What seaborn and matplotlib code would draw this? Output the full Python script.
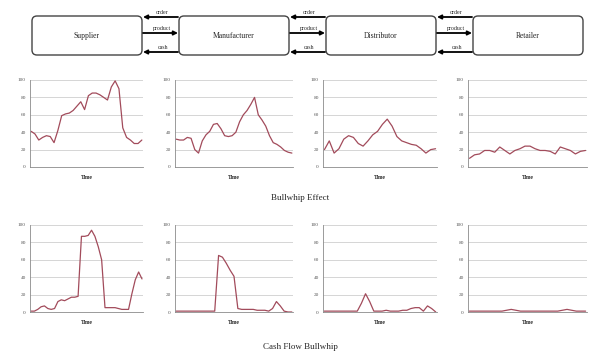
import numpy as np
import pandas as pd
import matplotlib.pyplot as plt
import seaborn as sns
from matplotlib.patches import FancyBboxPatch

# Chain members (left to right)
stages = ["Supplier", "Manufacturer", "Distributor", "Retailer"]
flows = ["order", "product", "cash"]

# Bullwhip effect: order quantity over time, per stage
bullwhip_supplier = [41, 38, 31, 34, 36, 35, 28, 42, 59, 61, 62, 65, 70, 75, 66,
                     82, 85, 85, 83, 80, 77, 92, 99, 90, 45, 34, 31, 27, 27, 31]
bullwhip_manufacturer = [32, 31, 31, 34, 33, 20, 16, 30, 37, 41, 49, 50, 44, 36, 35, 36,
                         40, 52, 60, 65, 72, 80, 60, 54, 47, 36, 28, 26, 23, 19, 17, 16]
bullwhip_distributor = [20, 30, 16, 21, 32, 36, 34, 27, 24, 30, 37, 41,
                        49, 55, 47, 35, 30, 28, 26, 25, 21, 16, 20, 21]
bullwhip_retailer = [10, 14, 15, 19, 19, 17, 23, 19, 15, 19, 21, 24,
                     24, 21, 19, 19, 18, 15, 23, 21, 19, 15, 18, 19]

# Cash flow bullwhip, per stage
cash_supplier = [1, 1, 3, 6, 7, 4, 3, 4, 12, 14, 13, 15, 17, 17, 18, 87, 87, 88, 94,
                 87, 75, 60, 5, 5, 5, 5, 4, 3, 3, 3, 21, 37, 46, 38]
cash_manufacturer = [1, 1, 1, 1, 1, 1, 1, 1, 1, 1, 1, 65, 63, 56, 48, 41, 4, 3, 3,
                     3, 3, 2, 2, 2, 1, 4, 12, 7, 1, 0, 0]
cash_distributor = [1, 1, 1, 1, 1, 1, 1, 1, 1, 10, 21, 12, 1, 1, 1, 2, 1, 1, 1,
                    2, 2, 4, 5, 5, 1, 7, 4, 0]
cash_retailer = [1, 1, 1, 1, 1, 1, 1, 1, 2, 3, 2, 1, 1, 1, 1, 1, 1, 1, 1, 1,
                 2, 3, 2, 1, 1, 1]

yticks = [0, 20, 40, 60, 80, 100]

sns.set_theme(style="white")
plt.rcParams['font.family'] = ['Liberation Serif', 'DejaVu Serif']

fig = plt.figure(figsize=(5.89, 3.54), dpi=100)
W, H = 589, 354

# axes boxes in pixels: (left, right)
cols = [(30, 143), (175, 293), (323, 437), (468, 587)]
rows = [(80, 167), (225, 312)]
line_color = "#a24b5b"


def px_axes(x0, x1, y0, y1):
    return fig.add_axes([x0 / W, 1 - y1 / H, (x1 - x0) / W, (y1 - y0) / H])


def draw_panel(ax, values):
    df = pd.DataFrame({"t": np.arange(len(values)), "v": values})
    sns.lineplot(data=df, x="t", y="v", ax=ax, color=line_color, linewidth=0.9)
    ax.set_ylim(0, 100)
    ax.set_xlim(-0.3, len(values) - 0.7)
    ax.set_yticks(yticks)
    ax.set_yticklabels([str(v) for v in yticks], fontsize=3.8)
    ax.set_xticks(np.arange(0, len(values), 3))
    ax.set_xticklabels([])
    ax.grid(axis="y", color="#cfcfcf", linewidth=0.6)
    ax.set_axisbelow(True)
    for s in ["top", "right"]:
        ax.spines[s].set_visible(False)
    for s in ["left", "bottom"]:
        ax.spines[s].set_color("#8a8a8a")
        ax.spines[s].set_linewidth(0.6)
    ax.tick_params(axis="both", length=1.5, width=0.4, pad=1.5, colors="#555555")
    ax.set_ylabel("")
    ax.set_xlabel("Time", fontsize=4, fontweight="bold", labelpad=3)


series_rows = [
    [bullwhip_supplier, bullwhip_manufacturer, bullwhip_distributor, bullwhip_retailer],
    [cash_supplier, cash_manufacturer, cash_distributor, cash_retailer],
]
for (y0, y1), row_series in zip(rows, series_rows):
    for (x0, x1), vals in zip(cols, row_series):
        draw_panel(px_axes(x0, x1, y0, y1), vals)

fig.text(300 / W, 1 - 198 / H, "Bullwhip Effect", ha="center", va="center", fontsize=6.5)
fig.text(300 / W, 1 - 347 / H, "Cash Flow Bullwhip", ha="center", va="center", fontsize=6.5)

# supply chain diagram on top
dax = fig.add_axes([0, 1 - 62 / H, 1, 62 / H])
dax.set_xlim(0, W)
dax.set_ylim(62, 0)
dax.axis("off")
box_left, box_w, box_gap = 32, 110, 37
box_top, box_bot = 16, 55
for i, name in enumerate(stages):
    bx = box_left + i * (box_w + box_gap)
    dax.add_patch(FancyBboxPatch((bx, box_top), box_w, box_bot - box_top,
                                 boxstyle="round,pad=0,rounding_size=5",
                                 fc="white", ec="#444444", lw=1.0))
    dax.text(bx + box_w / 2, (box_top + box_bot) / 2, name, ha="center",
             va="center", fontsize=5.5)
    if i == len(stages) - 1:
        continue
    gx0 = bx + box_w + 1
    gx1 = gx0 + box_gap - 2
    for flow, fy in zip(flows, [17, 33, 52]):
        if flow == "product":
            start, end = (gx0, fy), (gx1, fy)
        else:
            start, end = (gx1, fy), (gx0, fy)
        dax.annotate("", xy=end, xytext=start,
                     arrowprops=dict(arrowstyle="-|>", color="black", lw=1.3,
                                     mutation_scale=6, shrinkA=0, shrinkB=0))
        dax.text((gx0 + gx1) / 2 + 2, fy - 4.5, flow, ha="center", va="center",
                 fontsize=4.2)

fig.savefig("out.png", dpi=100)
